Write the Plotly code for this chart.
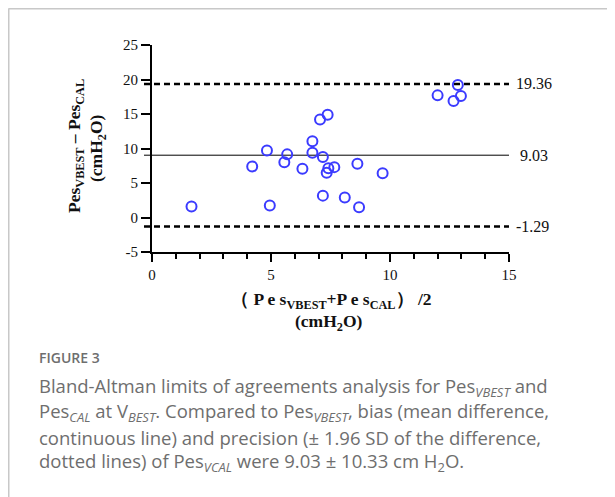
import plotly.graph_objects as go

# ---- data ----
mean_vals = [12.85, 12.00, 12.67, 12.98, 7.38, 7.06, 6.74, 4.83, 5.68, 6.74, 7.18, 4.21,
             5.56, 6.32, 7.41, 7.34, 7.66, 8.63, 9.69, 7.18, 8.10, 8.70, 4.95, 1.66]
diff_vals = [19.2, 17.7, 16.9, 17.6, 14.9, 14.2, 11.05, 9.7, 9.15, 9.4, 8.76, 7.4,
             8.0, 7.05, 7.15, 6.5, 7.3, 7.8, 6.4, 3.17, 2.9, 1.5, 1.75, 1.6]
bias = 9.03
upper_loa = 19.36
lower_loa = -1.29
x_ticks = [0, 5, 10, 15]
y_ticks = [-5, 0, 5, 10, 15, 20, 25]
y_tick_text = ["-5", "0", "5", "10", "15", "20", "25"]

W, H = 615, 497          # browser window
OFF = 8                  # default page margin of the html body
L, R, T, B = 152, 509, 45, 252   # plot area in window pixels


def px(xp):
    return (xp - L) / (R - L)


def py(yp):
    return (B - yp) / (B - T)


serif = "Liberation Serif, Times New Roman, serif"
sans = "Open Sans, Noto Sans, sans-serif"
cap_col = "#6e6e6e"

fig = go.Figure()
fig.add_trace(go.Scatter(
    x=mean_vals, y=diff_vals, mode="markers",
    marker=dict(symbol="circle-open", size=10, color="#3b3bff", line=dict(width=2, color="#3b3bff")),
    showlegend=False, hoverinfo="x+y"))

shapes = []
for val, dash, wdt in [(upper_loa, "6px,4px", 2.5), (lower_loa, "6px,4px", 2.5), (bias, "solid", 1)]:
    shapes.append(dict(type="line", xref="paper", yref="y", x0=px(144), x1=1, y0=val, y1=val,
                       line=dict(color="black", width=wdt, dash=dash), layer="below"))
# figure frame (top and left grey rules)
shapes.append(dict(type="line", xref="paper", yref="paper", x0=px(8.5), x1=px(W + 5), y0=py(8.5), y1=py(8.5),
                   line=dict(color="#c8c8c8", width=2)))
shapes.append(dict(type="line", xref="paper", yref="paper", x0=px(8.5), x1=px(8.5), y0=py(8.5), y1=py(H + 5),
                   line=dict(color="#c8c8c8", width=2)))

ann = []
for val, txt in [(upper_loa, "19.36"), (bias, " 9.03"), (lower_loa, "-1.29")]:
    ann.append(dict(xref="paper", yref="y", x=1, y=val, text=txt, showarrow=False,
                    xanchor="left", yanchor="middle", xshift=5,
                    font=dict(family=serif, size=16, color="#111")))

# axis titles
tfont = dict(family=serif, size=17.5, color="#111")
ann.append(dict(xref="paper", yref="paper", x=px(75), y=py(146), textangle=-90, showarrow=False,
                text="<b>Pes<sub>VBEST</sub> – Pes<sub>CAL</sub></b>",
                font=tfont, xanchor="center", yanchor="middle"))
ann.append(dict(xref="paper", yref="paper", x=px(97), y=py(148), textangle=-90, showarrow=False,
                text="<b>(cmH<sub>2</sub>O)</b>",
                font=tfont, xanchor="center", yanchor="middle"))
ann.append(dict(xref="paper", yref="paper", x=px(331), y=py(300), showarrow=False,
                text="<b>（ P e s<sub>VBEST</sub>+P e s<sub>CAL</sub>） /2</b>",
                font=tfont, xanchor="center", yanchor="middle"))
ann.append(dict(xref="paper", yref="paper", x=px(329), y=py(322), showarrow=False,
                text="<b>(cmH<sub>2</sub>O)</b>",
                font=tfont, xanchor="center", yanchor="middle"))

# caption
ann.append(dict(xref="paper", yref="paper", x=px(37), y=py(357), showarrow=False,
                text="FIGURE 3", xanchor="left", yanchor="middle",
                font=dict(family=sans, size=14, color=cap_col, weight=600)))
cap_lines = [
    "Bland-Altman limits of agreements analysis for Pes<sub><i>VBEST</i></sub> and",
    "Pes<sub><i>CAL</i></sub> at V<sub><i>BEST</i></sub>. Compared to Pes<sub><i>VBEST</i></sub>, bias (mean difference,",
    "continuous line) and precision (± 1.96 SD of the difference,",
    "dotted lines) of Pes<sub><i>VCAL</i></sub> were 9.03 ± 10.33 cm H<sub>2</sub>O.",
]
for i, line in enumerate(cap_lines):
    ann.append(dict(xref="paper", yref="paper", x=px(37), y=py(387 + 25 * i), showarrow=False,
                    text=line, xanchor="left", yanchor="middle",
                    font=dict(family=sans, size=18.5, color=cap_col)))

fig.update_layout(
    width=W - OFF, height=H - OFF,
    margin=dict(l=L - OFF, r=W - R, t=T - OFF, b=H - B),
    paper_bgcolor="white", plot_bgcolor="white",
    shapes=shapes, annotations=ann,
    xaxis=dict(range=[0, 15], tickvals=x_ticks, ticks="outside", ticklen=8, tickwidth=2,
               tickcolor="black", showline=True, linecolor="black", linewidth=2,
               showgrid=False, zeroline=False,
               minor=dict(dtick=1, ticks="outside", ticklen=5, tickwidth=2, tickcolor="black"),
               tickfont=dict(family=serif, size=15, color="#111")),
    yaxis=dict(range=[-5, 25], tickvals=y_ticks, ticktext=y_tick_text, ticks="outside", ticklen=9,
               tickwidth=2, tickcolor="black", showline=True, linecolor="black", linewidth=2,
               showgrid=False, zeroline=False,
               tickfont=dict(family=serif, size=15, color="#111")),
)

fig.write_html("out.html")
